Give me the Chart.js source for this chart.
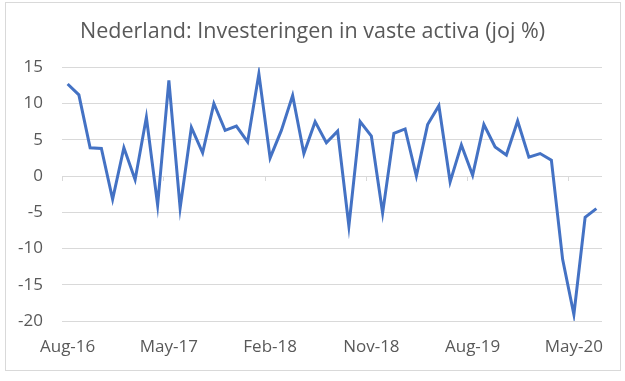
<!DOCTYPE html>
<html>
<head>
<meta charset="utf-8">
<script src="https://cdn.jsdelivr.net/npm/chart.js@4/dist/chart.umd.min.js"></script>
<style>
  html, body { margin: 0; padding: 0; background: #ffffff; }
  #wrap { position: relative; width: 625px; height: 381px; }
  #frame { position: absolute; left: 5px; top: 2px; width: 614px; height: 367px; border: 1px solid #d9d9d9; box-sizing: content-box; pointer-events: none; }
  canvas { position: absolute; left: 0; top: 0; }
</style>
</head>
<body>
<div id="wrap">
  <canvas id="c" width="625" height="381"></canvas>
  <div id="frame"></div>
</div>
<script>
const titleText = 'Nederland: Investeringen in vaste activa (joj %)';

const months = [
  'Aug-16','Sep-16','Oct-16','Nov-16','Dec-16',
  'Jan-17','Feb-17','Mar-17','Apr-17','May-17','Jun-17','Jul-17','Aug-17','Sep-17','Oct-17','Nov-17','Dec-17',
  'Jan-18','Feb-18','Mar-18','Apr-18','May-18','Jun-18','Jul-18','Aug-18','Sep-18','Oct-18','Nov-18','Dec-18',
  'Jan-19','Feb-19','Mar-19','Apr-19','May-19','Jun-19','Jul-19','Aug-19','Sep-19','Oct-19','Nov-19','Dec-19',
  'Jan-20','Feb-20','Mar-20','Apr-20','May-20','Jun-20','Jul-20'
];

const investeringen = [
  12.7, 11.2, 3.9, 3.8, -3.2, 3.9, -0.5, 8.1, -4.0, 13.2, -4.4, 6.7, 3.2, 10.0, 6.3, 6.9,
  4.7, 14.1, 2.5, 6.3, 11.1, 3.1, 7.5, 4.6, 6.2, -6.9, 7.5, 5.5, -5.1, 5.9, 6.5, 0.0,
  7.1, 9.7, -0.8, 4.3, 0.1, 7.1, 4.0, 2.9, 7.6, 2.6, 3.1, 2.2, -11.5, -19.1, -5.7, -4.5
];

const shownXLabels = ['Aug-16','May-17','Feb-18','Nov-18','Aug-19','May-20'];
const yTicks = [-20, -15, -10, -5, 0, 5, 10, 15];

const textColor = '#595959';
const gridColor = '#d9d9d9';
const fontFamily = "'Open Sans', 'Noto Sans', sans-serif";

// small tick marks on the horizontal axis (at value 0), between categories every 9 months
const axisTicks = {
  id: 'axisTicks',
  beforeDatasetsDraw(chart) {
    const xs = chart.scales.x, ys = chart.scales.y;
    const ctx = chart.ctx;
    const y0 = ys.getPixelForValue(0);
    const half = (xs.getPixelForValue(1) - xs.getPixelForValue(0)) / 2;
    ctx.save();
    ctx.strokeStyle = gridColor;
    ctx.lineWidth = 1;
    months.forEach((m, i) => {
      if (shownXLabels.includes(m)) {
        const x = Math.round(xs.getPixelForValue(i) - half) + 0.5;
        ctx.beginPath();
        ctx.moveTo(x, y0);
        ctx.lineTo(x, y0 + 5);
        ctx.stroke();
      }
    });
    ctx.restore();
  }
};

new Chart(document.getElementById('c'), {
  type: 'line',
  data: {
    labels: months,
    datasets: [{
      data: investeringen,
      borderColor: '#4472C4',
      borderWidth: 3,
      pointRadius: 0,
      tension: 0,
      fill: false,
      yAxisID: 'y'
    }]
  },
  options: {
    responsive: false,
    animation: false,
    devicePixelRatio: 1,
    layout: { padding: { left: 0, right: 0, top: 0, bottom: 0 } },
    plugins: {
      legend: { display: false },
      tooltip: { enabled: false },
      title: {
        display: true,
        text: titleText,
        color: textColor,
        font: { family: fontFamily, size: 21.5, weight: 'normal' },
        padding: { top: 18.5, bottom: 23 }
      }
    },
    scales: {
      x: {
        offset: true,
        grid: { display: false, drawTicks: false, offset: true },
        border: { display: false },
        ticks: {
          autoSkip: false,
          maxRotation: 0,
          minRotation: 0,
          color: textColor,
          font: { family: fontFamily, size: 17 },
          padding: 16,
          callback: function (v, i) {
            const lab = months[i];
            return shownXLabels.includes(lab) ? lab : '';
          }
        },
        afterFit(scale) { scale.height = 60; }
      },
      y: {
        position: 'left',
        min: -20,
        max: 15,
        afterBuildTicks(scale) { scale.ticks = yTicks.map(v => ({ value: v })); },
        grid: { color: gridColor, lineWidth: 1, drawTicks: false },
        border: { display: false },
        ticks: {
          color: textColor,
          font: { family: fontFamily, size: 17 },
          padding: 19
        },
        afterFit(scale) { scale.width = 62; }
      },
      yRight: {
        position: 'right',
        display: true,
        min: 0,
        max: 1,
        grid: { display: false, drawTicks: false },
        border: { display: false },
        ticks: { display: false },
        afterFit(scale) { scale.width = 23; }
      }
    }
  },
  plugins: [axisTicks]
});
</script>
</body>
</html>
